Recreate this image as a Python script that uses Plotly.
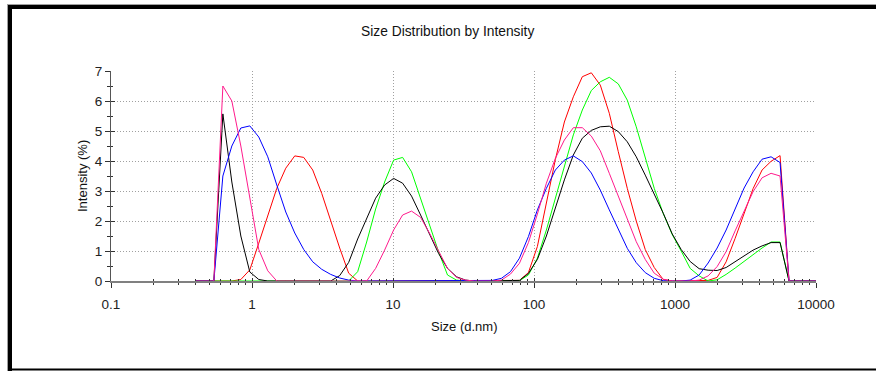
import plotly.graph_objects as go

# Size classes (d.nm), log-spaced from 0.4 to 10000
sizes_nm = [0.4, 0.4632, 0.5365, 0.6213, 0.7195, 0.8332, 0.9649, 1.117, 1.294, 1.499,
            1.736, 2.01, 2.328, 2.696, 3.122, 3.615, 4.187, 4.849, 5.615, 6.503,
            7.531, 8.721, 10.1, 11.7, 13.54, 15.69, 18.17, 21.04, 24.36, 28.21,
            32.67, 37.84, 43.82, 50.75, 58.77, 68.06, 78.82, 91.28, 105.7, 122.4,
            141.8, 164.2, 190.1, 220.2, 255.0, 295.3, 342.0, 396.1, 458.7, 531.2,
            615.1, 712.4, 825.0, 955.4, 1106, 1281, 1484, 1718, 1990, 2305,
            2669, 3091, 3580, 4145, 4801, 5560, 6439, 7456, 8635, 10000]

# Intensity (%) per size class for each record
intensity_red = [0, 0, 0, 0, 0, 0.05, 0.37, 1.26, 2.14, 3.09,
                 3.76, 4.17, 4.12, 3.7, 2.92, 2.0, 1.1, 0.26, 0, 0,
                 0, 0, 0, 0, 0, 0, 0, 0, 0, 0,
                 0, 0, 0, 0, 0, 0, 0.02, 0.28, 1.15, 2.6,
                 4.05, 5.3, 6.14, 6.81, 6.94, 6.53, 5.59, 4.31, 3.09, 2.0,
                 1.05, 0.45, 0.05, 0, 0, 0, 0, 0.02, 0.12, 0.64,
                 1.42, 2.26, 3.08, 3.7, 3.99, 4.18, 0, 0, 0, 0]

intensity_green = [0, 0, 0, 0, 0, 0, 0, 0, 0, 0,
                   0, 0, 0, 0, 0, 0, 0, 0, 0.31, 1.3,
                   2.4, 3.3, 4.03, 4.12, 3.64, 2.76, 1.81, 0.98, 0.2, 0.03,
                   0, 0, 0, 0, 0, 0, 0.01, 0.2, 0.76, 1.7,
                   2.76, 3.81, 4.87, 5.7, 6.35, 6.64, 6.79, 6.57, 6.03, 5.14,
                   4.14, 3.09, 2.25, 1.55, 1.0, 0.42, 0.17, 0, 0.04, 0.22,
                   0.43, 0.65, 0.9, 1.1, 1.3, 1.3, 0, 0, 0, 0]

intensity_black = [0, 0, 0, 5.57, 3.3, 1.5, 0.3, 0.05, 0, 0,
                   0, 0, 0, 0, 0, 0, 0.18, 0.62, 1.4, 2.1,
                   2.76, 3.2, 3.42, 3.26, 2.83, 2.2, 1.53, 0.92, 0.42, 0.14,
                   0.03, 0, 0, 0, 0, 0, 0.02, 0.25, 0.72, 1.5,
                   2.42, 3.37, 4.2, 4.76, 5.02, 5.14, 5.16, 4.98, 4.64, 4.14,
                   3.53, 2.92, 2.26, 1.57, 1.05, 0.65, 0.41, 0.36, 0.35, 0.45,
                   0.64, 0.83, 1.03, 1.17, 1.28, 1.28, 0, 0, 0, 0]

intensity_blue = [0, 0, 0, 3.5, 4.5, 5.1, 5.17, 4.8, 4.14, 3.2,
                  2.3, 1.6, 1.05, 0.64, 0.39, 0.22, 0.1, 0.03, 0, 0,
                  0, 0, 0, 0, 0, 0, 0, 0, 0, 0,
                  0, 0, 0, 0.02, 0.09, 0.31, 0.76, 1.48, 2.37, 3.09,
                  3.7, 4.03, 4.17, 3.98, 3.6, 3.03, 2.37, 1.7, 1.09, 0.61,
                  0.28, 0.09, 0.01, 0, 0, 0.03, 0.2, 0.6, 1.1, 1.7,
                  2.4, 3.1, 3.64, 4.06, 4.14, 3.95, 0, 0, 0, 0]

intensity_pink = [0, 0, 0, 6.5, 6.0, 4.5, 2.8, 1.05, 0.34, 0,
                  0, 0, 0, 0, 0, 0, 0, 0, 0, 0,
                  0.42, 1.03, 1.7, 2.2, 2.33, 2.12, 1.59, 0.98, 0.42, 0.12,
                  0.03, 0, 0, 0, 0.03, 0.23, 0.59, 1.28, 2.23, 3.26,
                  4.09, 4.7, 5.11, 5.11, 4.83, 4.34, 3.59, 2.81, 2.03, 1.31,
                  0.72, 0.26, 0.06, 0, 0, 0, 0.03, 0.17, 0.48, 0.98,
                  1.67, 2.34, 2.98, 3.44, 3.59, 3.5, 0, 0, 0, 0]

x_tick_vals = [0.1, 1, 10, 100, 1000, 10000]
x_tick_text = ["0.1", "1", "10", "100", "1000", "10000"]
y_tick_vals = [0, 1, 2, 3, 4, 5, 6, 7]
x_minor_vals = [k * 10.0 ** e for e in range(-1, 4) for k in range(2, 10)]
y_minor_vals = [v + 0.5 for v in range(7)]

records = [
    ("Record 1", intensity_red, "#ff0000"),
    ("Record 2", intensity_green, "#00ff00"),
    ("Record 3", intensity_black, "#000000"),
    ("Record 4", intensity_blue, "#0000ff"),
    ("Record 5", intensity_pink, "#ff1a8c"),
]

FONT = "Liberation Sans, Arial, sans-serif"
W, H = 876, 371
PL, PR, PT, PB = 111, 816, 71, 281  # plot area edges in pixels


def fx(px):
    return (px - PL) / (PR - PL)


def fy(py):
    return (PB - py) / (PB - PT)


fig = go.Figure()
for name, values, color in records:
    assert len(values) == len(sizes_nm)
    fig.add_trace(go.Scatter(x=sizes_nm, y=values, mode="lines", name=name,
                             line=dict(color=color, width=1), hoverinfo="x+y"))

# empty trace on the overlay axes that carry the inward tick marks
fig.add_trace(go.Scatter(x=[], y=[], xaxis="x2", yaxis="y2", showlegend=False))

grid = dict(showgrid=True, gridcolor="#a0a0a0", gridwidth=1, griddash="1px,2px")
tickfont = dict(family=FONT, size=13.5, color="#222222")

fig.update_layout(
    width=W, height=H,
    margin=dict(l=PL, r=W - PR, t=PT, b=H - PB, pad=0),
    paper_bgcolor="white", plot_bgcolor="white",
    showlegend=False,
    xaxis=dict(type="log", range=[-1, 4], tickmode="array",
               tickvals=x_tick_vals, ticktext=x_tick_text,
               ticks="outside", ticklen=5, tickwidth=1, tickcolor="#333333",
               ticklabelstandoff=5, tickfont=tickfont,
               showline=True, linecolor="#808080", linewidth=2,
               layer="below traces", zeroline=False,
               minor=dict(tickvals=x_minor_vals, ticks="outside", ticklen=2,
                          tickcolor="#333333", showgrid=False),
               **grid),
    yaxis=dict(range=[0, 7], tickmode="array", tickvals=y_tick_vals,
               ticks="outside", ticklen=5, tickwidth=1, tickcolor="#333333",
               tickfont=tickfont, showline=True, linecolor="#555555",
               linewidth=1, zeroline=False,
               minor=dict(tickvals=y_minor_vals, ticks="outside", ticklen=3,
                          tickcolor="#333333", showgrid=False),
               **grid),
    xaxis2=dict(type="log", range=[-1, 4], overlaying="x", anchor="y2",
                side="bottom", tickmode="array", tickvals=x_tick_vals,
                ticks="inside", ticklen=3, tickcolor="#333333",
                showticklabels=False, showgrid=False, showline=False,
                zeroline=False,
                minor=dict(tickvals=x_minor_vals, ticks="inside", ticklen=2,
                           tickcolor="#333333", showgrid=False)),
    yaxis2=dict(range=[0, 7], overlaying="y", anchor="x2", side="left",
                tickmode="array", tickvals=y_tick_vals,
                ticks="inside", ticklen=4, tickcolor="#333333",
                showticklabels=False, showgrid=False, showline=False,
                zeroline=False,
                minor=dict(tickvals=y_minor_vals, ticks="inside", ticklen=2,
                           tickcolor="#333333", showgrid=False)),
)

# titles
fig.add_annotation(text="Size Distribution by Intensity", xref="paper", yref="paper",
                   x=fx(447.5), y=fy(31), xanchor="center", yanchor="middle",
                   showarrow=False, font=dict(family=FONT, size=13.8, color="#111111"))
fig.add_annotation(text="Size (d.nm)", xref="paper", yref="paper",
                   x=fx(463.5), y=fy(326), xanchor="center", yanchor="middle",
                   showarrow=False, font=dict(family=FONT, size=13, color="#111111"))
fig.add_annotation(text="Intensity (%)", xref="paper", yref="paper",
                   x=fx(82), y=fy(176), xanchor="center", yanchor="middle",
                   textangle=-90, showarrow=False,
                   font=dict(family=FONT, size=13, color="#111111"))

# window frame: heavy top/left edge, thin bottom edge
frame = [
    (7, 4, 880, 5, "#a0a0a0"),
    (7, 4, 8, 372, "#a0a0a0"),
    (8, 5, 880, 9, "#000000"),
    (8, 5, 12, 372, "#000000"),
    (8, 368.5, 880, 370.5, "#000000"),
]
for x0, y0, x1, y1, c in frame:
    fig.add_shape(type="rect", xref="paper", yref="paper",
                  x0=fx(x0), x1=fx(x1), y0=fy(y1), y1=fy(y0),
                  fillcolor=c, line=dict(width=0), layer="above")

fig.write_html("out.html")
